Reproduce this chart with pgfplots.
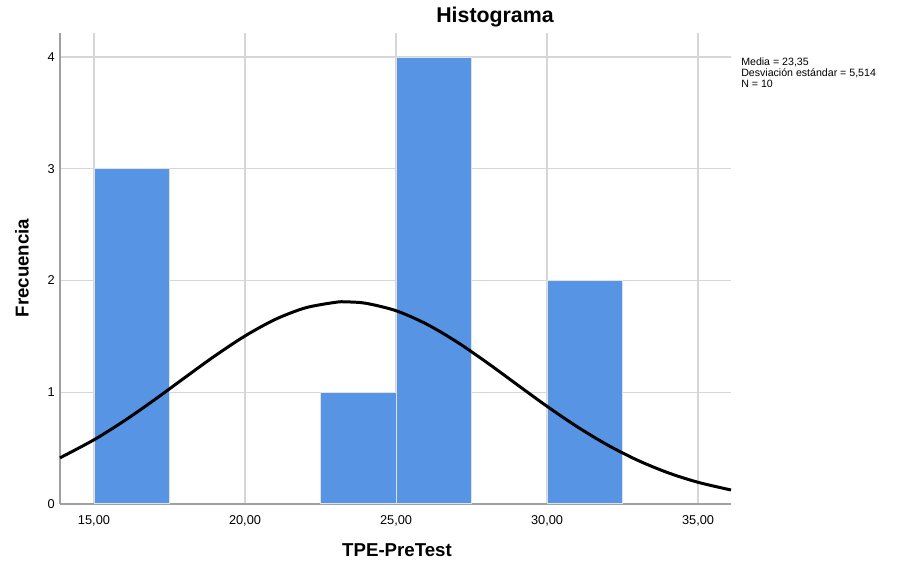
\documentclass[border=0pt]{standalone}
\usepackage{pgfplots}
\pgfplotsset{compat=1.18}
\usepackage{fontspec}
\setmainfont{Liberation Sans}
\definecolor{barblue}{RGB}{87,148,227}
\definecolor{baredge}{RGB}{222,226,232}
\definecolor{gridgray}{RGB}{214,214,214}
\definecolor{axisgray}{RGB}{160,160,160}
\begin{document}
\begin{tikzpicture}
\useasboundingbox (-45pt,-47.25pt) rectangle (634.5pt,378pt);
\begin{axis}[
  at={(0pt,0pt)}, anchor=south west, scale only axis,
  width=503.25pt, height=353.25pt,
  xmin=13.874, xmax=36.09, ymin=0, ymax=4.215,
  axis x line=bottom, axis y line=left,
  axis line style={-, axisgray, line width=1.5pt},
  xtick={15,20,25,30,35},
  xticklabels={{15,00},{20,00},{25,00},{30,00},{35,00}},
  ytick={0,1,2,3,4},
  major tick length=0pt,
  grid=major, grid style={gridgray, line width=1.1pt},
  tick label style={font=\fontsize{9.6}{11}\selectfont},
  /pgf/number format/assume math mode=true,
  xticklabel shift=5pt, yticklabel shift=0.5pt,
  clip=false,
]
\addplot[ybar, bar width=2.5, bar shift=0pt, fill=barblue, draw=baredge, line width=0.75pt]
  coordinates {(16.25,3) (23.75,1) (26.25,4) (31.25,2)};
\addplot[smooth, black, line width=2.25pt] coordinates {
  (13.874,0.4130) (15,0.5747) (16,0.7440) (17,0.9321) (18,1.1298) (19,1.3251)
  (20,1.5038) (21,1.6518) (22,1.7554) (23,1.8051) (23.35,1.8088) (24,1.7963)
  (25,1.7296) (26,1.6115) (27,1.4529) (28,1.2676) (29,1.0700) (30,0.8740)
  (31,0.6909) (32,0.5284) (33,0.3911) (34,0.2801) (35,0.1941) (36.09,0.1254)};
\end{axis}
\node[font=\bfseries\fontsize{16}{18}\selectfont] at (326.25pt,365.25pt) {Histograma};
\node[font=\fontsize{7.95}{8.25}\selectfont, anchor=north west, align=left, inner sep=0pt]
  at (510.75pt,334.5pt) {Media = 23,35\\Desviación estándar = 5,514\\N = 10};
\node[font=\bfseries\fontsize{14}{16}\selectfont, rotate=90] at (-28.5pt,177pt) {Frecuencia};
\node[font=\bfseries\fontsize{14}{16}\selectfont] at (252.75pt,-34.5pt) {TPE-PreTest};
\end{tikzpicture}
\end{document}
